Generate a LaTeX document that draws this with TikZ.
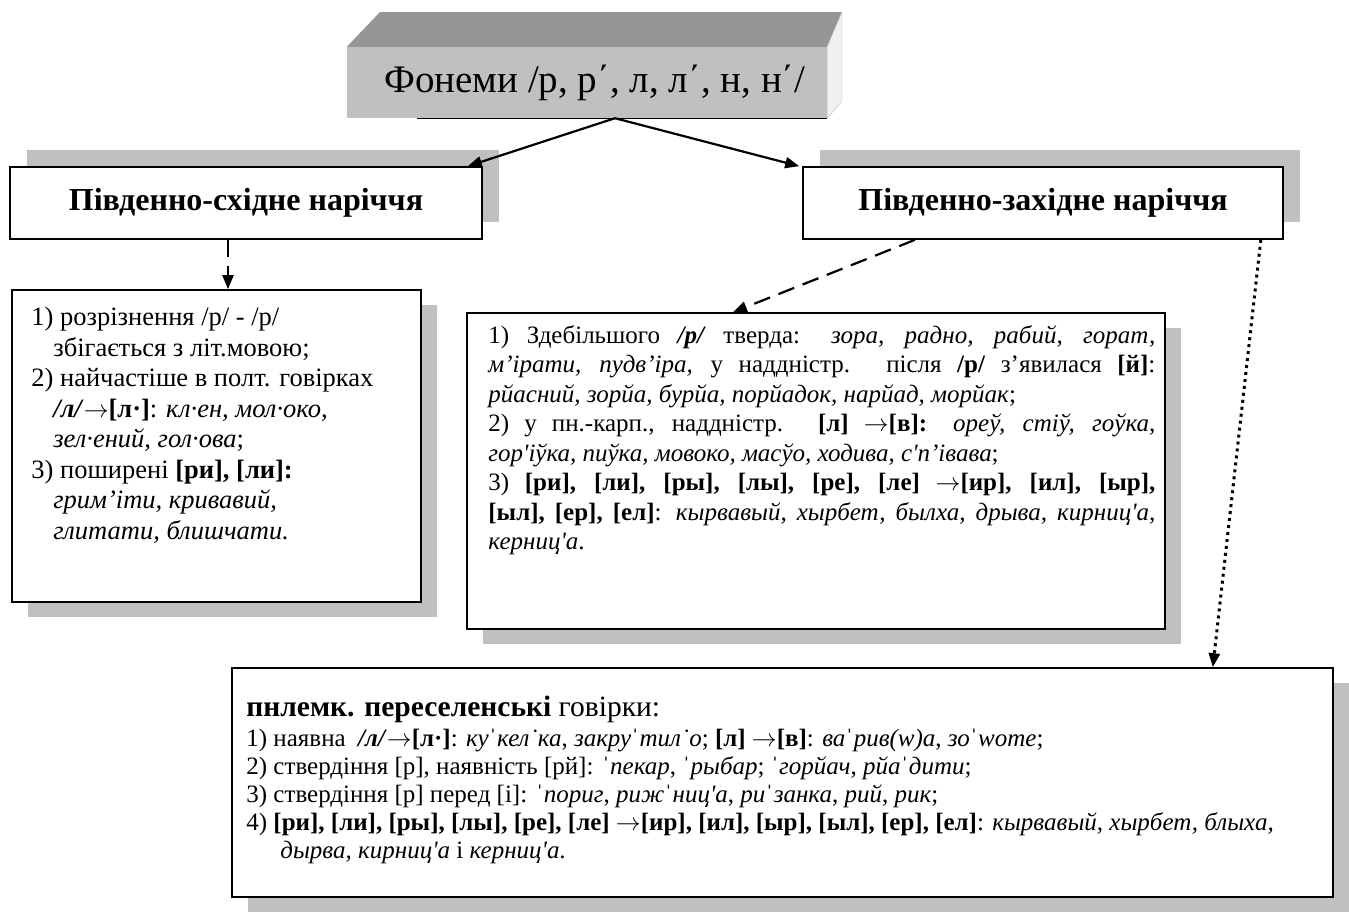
\documentclass[tikz,border=0pt]{standalone}
\usepackage{fontspec}
\setmainfont{Liberation Serif}
\newfontfamily\apfont{Liberation Serif}
\usetikzlibrary{arrows.meta, shadows}

\definecolor{shadowgray}{RGB}{192,192,192}
\definecolor{topgray}{RGB}{150,150,150}
\definecolor{sidegray}{RGB}{240,240,240}

\newcommand{\ap}{{\apfont '}}
\newcommand{\rarr}{$\rightarrow$}

\tikzset{
    box/.style={draw, line width=1.6pt, fill=white, inner sep=0pt},
    shadowdown/.style={drop shadow={shadow xshift=16pt, shadow yshift=-15pt, fill=shadowgray, opacity=1}},
    shadowup/.style={drop shadow={shadow xshift=17pt, shadow yshift=17pt, fill=shadowgray, opacity=1}},
    headtxt/.style={font=\fontsize{32}{35}\selectfont\bfseries},
    txt/.style={inner sep=0pt, anchor=north west, font=\fontsize{25}{29.5}\selectfont},
    arr/.style={line width=2.2pt, -{Triangle[length=14pt, width=11pt]}},
    dasharr/.style={arr, dash pattern=on 17pt off 9pt},
    dotarr/.style={arr, line width=3pt, dash pattern=on 3pt off 4pt},
}

\begin{document}
\begin{tikzpicture}[x=1pt, y=-1pt]
    \useasboundingbox (0,0) rectangle (1349,916);

    % Title block
    \node[fill=shadowgray, minimum width=480pt, minimum height=71pt, inner sep=0pt] (phon) at (587,82.5) {\fontsize{39}{42}\selectfont\hspace*{16pt}Фонеми /р, р΄, л, л΄, н, н΄/};
    \fill[topgray] (phon.north west) -- (380,12) -- (842,12) -- (phon.north east) -- cycle;
    \filldraw[fill=sidegray, draw=gray!50] (phon.north east) -- (842,12) -- (842,101) -- (phon.south east) -- cycle;
    \draw[line width=1.2pt] ([xshift=70pt]phon.south west) -- (phon.south east);

    % Draw nodes
    \node[box, shadowup, minimum width=472pt, minimum height=72pt, headtxt] (lhead) at (246,203) {Південно-східне наріччя};
    \node[box, shadowup, minimum width=480pt, minimum height=72pt, headtxt] (rhead) at (1043,203) {Південно-західне наріччя};
    \node[box, shadowdown, minimum width=409pt, minimum height=312pt] (lbox) at (216.5,446) {};
    \node[box, shadowdown, minimum width=698pt, minimum height=316pt] (mbox) at (816,471) {};
    \node[box, shadowdown, minimum width=1101pt, minimum height=229pt] (bbox) at (782.5,782.5) {};

    % Texts
    \node[txt, align=left, font=\fontsize{26.5}{30.5}\selectfont] (ltxt) at ([xshift=20pt, yshift=-18pt]lbox.north west) {
        1) розрізнення /р/ - /р/\\
        \hspace*{22pt}збігається з літ.мовою;\\
        2) найчастіше в полт. говірках\\
        \hspace*{22pt}\textbf{\textit{/л/}\rarr[л·]}: \textit{кл·ен, мол·око,}\\
        \hspace*{22pt}\textit{зел·ений, гол·ова};\\
        3) поширені \textbf{[ри], [ли]:}\\
        \hspace*{22pt}\textit{грим’іти, кривавий,}\\
        \hspace*{22pt}\textit{глитати, блишчати.}};
    \node[txt, text width=667pt, align=justify] (mtxt) at ([xshift=22pt, yshift=-13pt]mbox.north west) {
        1) Здебільшого \textbf{\textit{/р/}} тверда: \textit{зора, радно, рабий, горат,}\linebreak
        \textit{м’ірати, пудв’іра,} у наддністр. після \textbf{/р/} з’явилася \textbf{[й]}:\linebreak
        \textit{рйасний, зорйа, бурйа, порйадок, нарйад, морйак};\\
        2) у пн.-карп., наддністр. \textbf{[л] \rarr[в]:} \textit{ореў, стіў, гоўка,}\linebreak
        \textit{гор\ap іўка, пиўка, мовоко, масўо, ходива, с\ap п’івава};\\
        3) \textbf{[ри], [ли], [ры], [лы], [ре], [ле] \rarr[ир], [ил], [ыр],}\linebreak
        \textbf{[ыл], [ер], [ел]}: \textit{кырвавый, хырбет, былха, дрыва, кирниц\ap а,}\linebreak
        \textit{керниц\ap а}.};
    \node[txt, align=left, font=\fontsize{25}{28}\selectfont] (btxt) at ([xshift=15pt, yshift=-29pt]bbox.north west) {
        {\fontsize{29.5}{31}\selectfont\textbf{пнлемк. переселенські} говірки:}\\[2pt]
        1) наявна \ \textbf{\textit{/л/}\rarr[л·]}: \textit{куˈкел˙ка}, \textit{закруˈтил˙о}; \textbf{[л] \rarr[в]}: \textit{ваˈрив(w)а}, \textit{зоˈwоте};\\
        2) ствердіння [р], наявність [рй]: \textit{ˈпекар}, \textit{ˈрыбар}; \textit{ˈгорйач}, \textit{рйаˈдити};\\
        3) ствердіння [р] перед [і]: \textit{ˈпориг}, \textit{рижˈниц\ap а}, \textit{риˈзанка}, \textit{рий}, \textit{рик};\\
        4) \textbf{[ри], [ли], [ры], [лы], [ре], [ле] \rarr[ир], [ил], [ыр], [ыл], [ер], [ел]}: \textit{кырвавый, хырбет, блыха,}\\
        \hspace*{34pt}\textit{дырва, кирниц\ap а} і \textit{керниц\ap а}.};

    % Draw connections
    \coordinate (fork) at ([xshift=28pt]phon.south);
    \draw[arr] (fork) -- ([xshift=-15pt]lhead.north east);
    \draw[arr] (fork) -- ([xshift=-3pt]rhead.north west);
    \draw[dasharr] ([xshift=-18pt]lhead.south) -- ([xshift=-18pt]lhead.south |- lbox.north);
    \draw[dasharr] ([xshift=-128pt]rhead.south) -- ([xshift=-83pt]mbox.north);
    \draw[dotarr] ([xshift=-23pt]rhead.south east) -- ([xshift=-121pt]bbox.north east);
\end{tikzpicture}
\end{document}
